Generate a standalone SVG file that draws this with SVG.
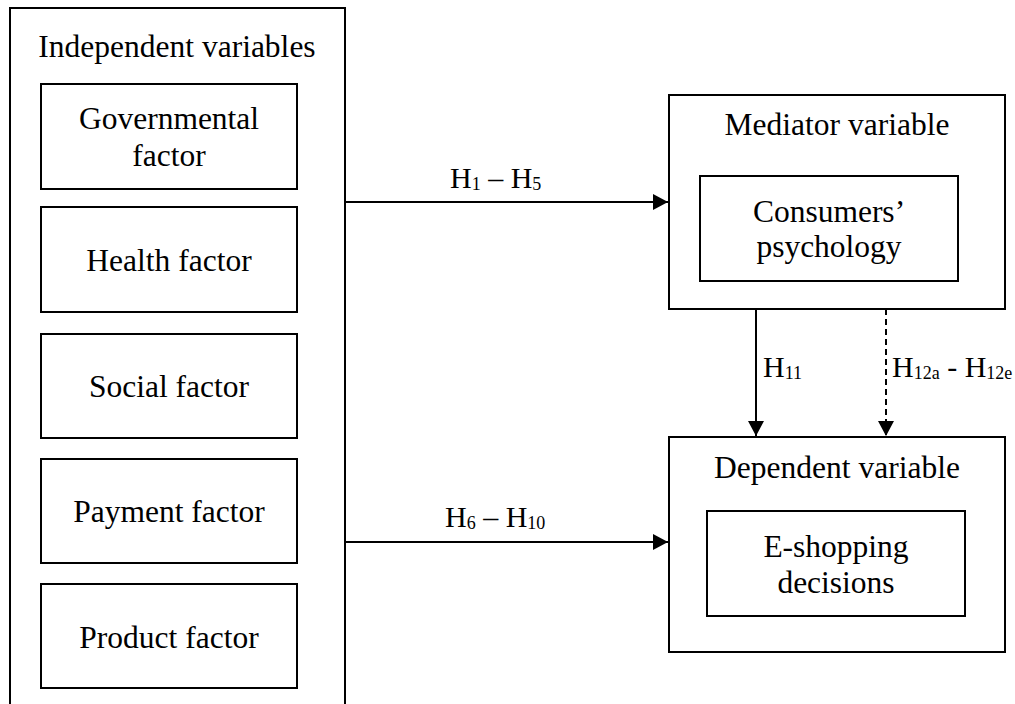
<svg xmlns="http://www.w3.org/2000/svg" width="1015" height="704" viewBox="0 0 1015 704">
<style>
.box{fill:#fff;stroke:#000;stroke-width:2}
.t{font-family:"Liberation Serif","Times New Roman",serif;font-size:31.5px;fill:#000;text-anchor:middle}
.l{font-family:"Liberation Serif","Times New Roman",serif;font-size:30px;fill:#000}
.s{font-size:18px}
.c{stroke:#000;stroke-width:2;fill:none}
</style>
<defs>
<marker id="ah" markerUnits="userSpaceOnUse" markerWidth="16" markerHeight="16" refX="15" refY="8" orient="auto">
<path d="M0,0 L15,8 L0,16 Z" fill="#000"/>
</marker>
</defs>
<rect width="1015" height="704" fill="#fff"/>
<g id="independent">
<rect class="box" x="10" y="8" width="335" height="720"/>
<text class="t" x="177" y="57">Independent variables</text>
</g>
<g id="governmental">
<rect class="box" x="41" y="84" width="256" height="105"/>
<text class="t" x="169" y="129">Governmental</text>
<text class="t" x="169" y="166">factor</text>
</g>
<g id="health">
<rect class="box" x="41" y="207" width="256" height="105"/>
<text class="t" x="169" y="271">Health factor</text>
</g>
<g id="social">
<rect class="box" x="41" y="334" width="256" height="104"/>
<text class="t" x="169" y="397">Social factor</text>
</g>
<g id="payment">
<rect class="box" x="41" y="459" width="256" height="104"/>
<text class="t" x="169" y="522">Payment factor</text>
</g>
<g id="product">
<rect class="box" x="41" y="584" width="256" height="104"/>
<text class="t" x="169" y="648">Product factor</text>
</g>
<g id="mediator">
<rect class="box" x="669" y="95" width="336" height="214"/>
<text class="t" x="837" y="135">Mediator variable</text>
<rect class="box" x="700" y="176" width="258" height="105"/>
<text class="t" x="829" y="222">Consumers’</text>
<text class="t" x="829" y="257">psychology</text>
</g>
<g id="dependent">
<rect class="box" x="669" y="437" width="336" height="215"/>
<text class="t" x="837" y="478">Dependent variable</text>
<rect class="box" x="707" y="511" width="258" height="105"/>
<text class="t" x="836" y="557">E-shopping</text>
<text class="t" x="836" y="593">decisions</text>
</g>
<g id="connectors">
<line class="c" x1="345" y1="202" x2="668" y2="202" marker-end="url(#ah)"/>
<line class="c" x1="345" y1="542" x2="668" y2="542" marker-end="url(#ah)"/>
<line class="c" x1="756" y1="309" x2="756" y2="436" marker-end="url(#ah)"/>
<line class="c" x1="886" y1="309" x2="886" y2="436" stroke-dasharray="6,4" marker-end="url(#ah)"/>
<text class="l" x="450" y="188">H<tspan class="s" dy="2">1</tspan><tspan dy="-2"> – H</tspan><tspan class="s" dy="2">5</tspan></text>
<text class="l" x="445" y="527">H<tspan class="s" dy="2">6</tspan><tspan dy="-2"> – H</tspan><tspan class="s" dy="2">10</tspan></text>
<text class="l" x="763" y="377">H<tspan class="s" dy="2">11</tspan></text>
<text class="l" x="892" y="377">H<tspan class="s" dy="2">12a</tspan><tspan dy="-2"> - H</tspan><tspan class="s" dy="2">12e</tspan></text>
</g>
</svg>
